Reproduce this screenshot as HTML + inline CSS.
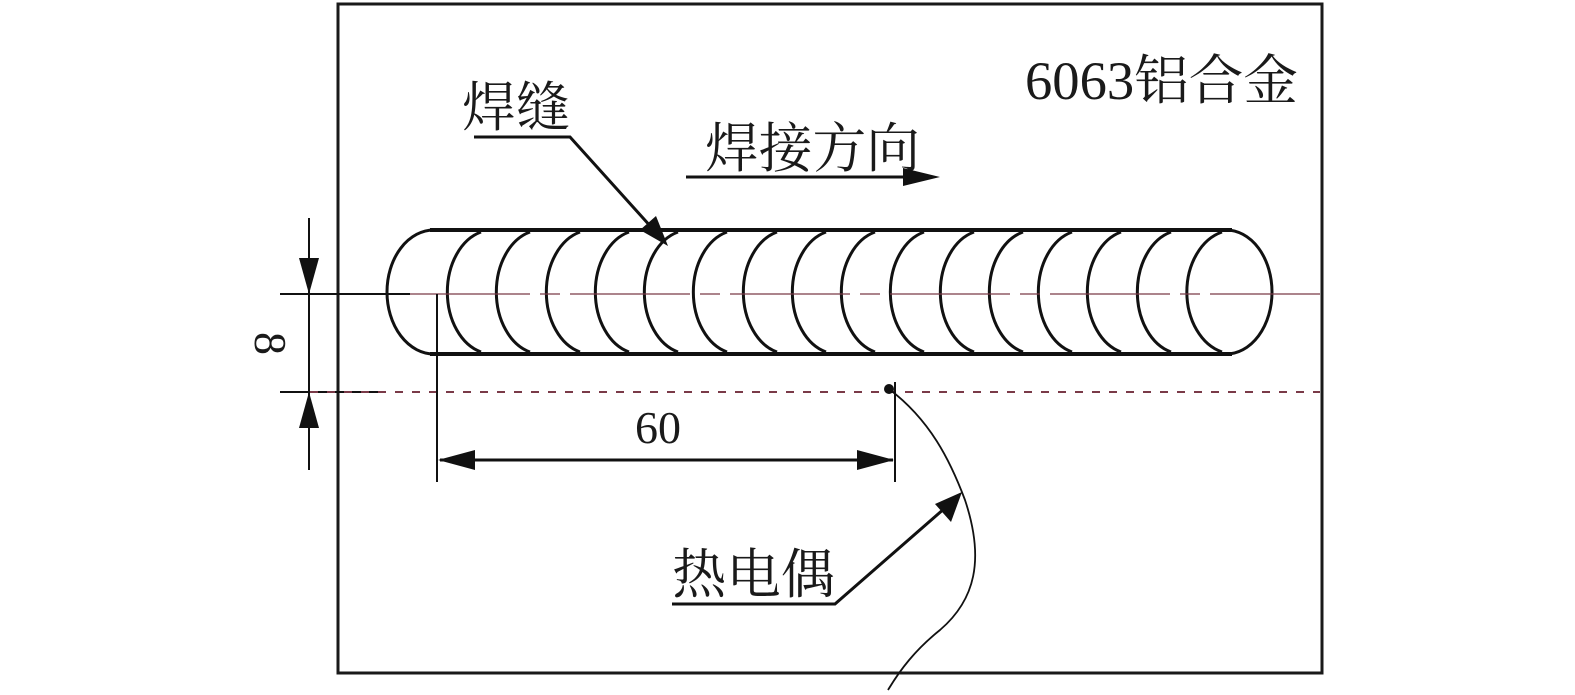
<!DOCTYPE html>
<html><head><meta charset="utf-8"><style>
html,body{margin:0;padding:0;background:#fff;}
svg{display:block;}
text{font-family:"Liberation Serif","Noto Serif CJK SC",serif;fill:#1a1a1a;}
</style></head><body>
<svg width="1575" height="695" viewBox="0 0 1575 695" xmlns="http://www.w3.org/2000/svg">
<rect x="338" y="4" width="984" height="669" fill="none" stroke="#1a1a1a" stroke-width="3"/>
<text x="1025" y="99" font-size="54" textLength="273" lengthAdjust="spacingAndGlyphs">6063铝合金</text>
<text x="462" y="126" font-size="54" textLength="108" lengthAdjust="spacingAndGlyphs">焊缝</text>
<text x="705" y="167" font-size="54" textLength="215" lengthAdjust="spacingAndGlyphs">焊接方向</text>
<text x="635" y="443" font-size="46">60</text>
<text x="672" y="593" font-size="54" textLength="163" lengthAdjust="spacingAndGlyphs">热电偶</text>
<text x="0" y="0" font-size="46" transform="translate(255,332) rotate(90)">8</text>
<g fill="none" stroke="#111" stroke-width="3">
<line x1="430" y1="230" x2="1232" y2="230" stroke-width="4"/>
<line x1="430" y1="354" x2="1232" y2="354" stroke-width="4"/>
<path d="M434 230 A47 62 0 0 0 434 354"/>
<path d="M481 232 A45 62 0 0 0 481 352"/>
<path d="M530 232 A45 62 0 0 0 530 352"/>
<path d="M580 232 A45 62 0 0 0 580 352"/>
<path d="M629 232 A45 62 0 0 0 629 352"/>
<path d="M678 232 A45 62 0 0 0 678 352"/>
<path d="M727 232 A45 62 0 0 0 727 352"/>
<path d="M777 232 A45 62 0 0 0 777 352"/>
<path d="M826 232 A45 62 0 0 0 826 352"/>
<path d="M875 232 A45 62 0 0 0 875 352"/>
<path d="M924 232 A45 62 0 0 0 924 352"/>
<path d="M974 232 A45 62 0 0 0 974 352"/>
<path d="M1023 232 A45 62 0 0 0 1023 352"/>
<path d="M1072 232 A45 62 0 0 0 1072 352"/>
<path d="M1121 232 A45 62 0 0 0 1121 352"/>
<path d="M1171 232 A45 62 0 0 0 1171 352"/>
<path d="M1222 232 A47 62 0 0 0 1222 352"/>
<path d="M1226 230 A46 62 0 0 1 1226 354"/>
</g>
<line x1="410" y1="294" x2="1320" y2="294" stroke="#7a3a48" stroke-width="1.2" stroke-dasharray="120,10,20,10"/>
<line x1="280" y1="294" x2="410" y2="294" stroke="#111" stroke-width="2"/>
<line x1="280" y1="392" x2="385" y2="392" stroke="#111" stroke-width="2"/>
<line x1="310" y1="392" x2="1320" y2="392" stroke="#7a3a48" stroke-width="2" stroke-dasharray="8,9"/>
<line x1="309" y1="218" x2="309" y2="470" stroke="#111" stroke-width="2"/>
<polygon points="299,258 319,258 309,294" fill="#111"/>
<polygon points="299,428 319,428 309,392" fill="#111"/>
<line x1="437" y1="294" x2="437" y2="482" stroke="#111" stroke-width="2"/>
<line x1="895" y1="382" x2="895" y2="482" stroke="#111" stroke-width="2"/>
<line x1="440" y1="460" x2="893" y2="460" stroke="#111" stroke-width="3"/>
<polygon points="438,460 475,450 475,470" fill="#111"/>
<polygon points="894,460 857,450 857,470" fill="#111"/>
<line x1="686" y1="177" x2="910" y2="177" stroke="#111" stroke-width="3"/>
<polygon points="940,177 903,168 903,186" fill="#111"/>
<polyline points="474,137 570,137 652,228" fill="none" stroke="#111" stroke-width="3"/>
<polygon points="668,246 640,230 656,216" fill="#111"/>
<circle cx="889" cy="389" r="5" fill="#111"/>
<path d="M889 389 C930 420 950 460 965 500 C985 560 975 600 940 630 C915 650 900 670 888 690" fill="none" stroke="#111" stroke-width="1.8"/>
<polyline points="672,604 835,604 945,508" fill="none" stroke="#111" stroke-width="3"/>
<polygon points="962,492 951,522 935,504" fill="#111"/>
</svg>
</body></html>
